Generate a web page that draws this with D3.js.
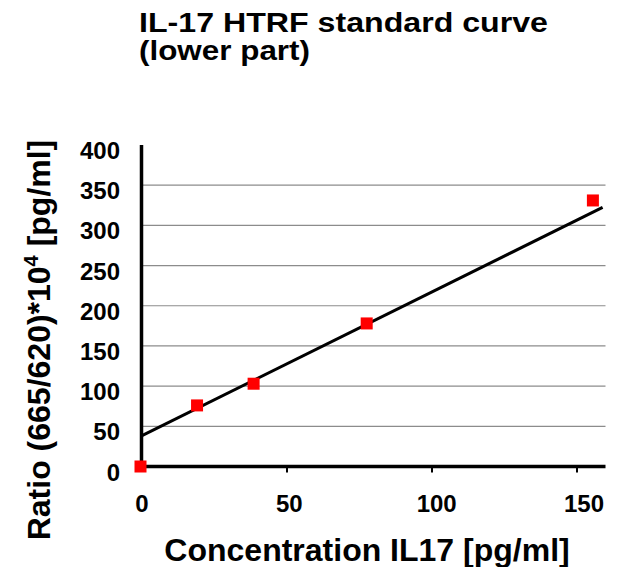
<!DOCTYPE html>
<html>
<head>
<meta charset="utf-8">
<script src="https://cdn.jsdelivr.net/npm/d3@7/dist/d3.min.js"></script>
<style>
  html, body { margin: 0; padding: 0; background: #fff; }
  svg { display: block; }
  text { font-family: "Liberation Sans", Arial, sans-serif; font-weight: bold; fill: #000; }
</style>
</head>
<body>
<svg id="chart" width="619" height="567"></svg>
<script>
// ---- data ----
const titleLines = ["IL-17 HTRF standard curve", "(lower part)"];
const xTitle = "Concentration IL17 [pg/ml]";
const concentrations = [0, 19.5, 39, 78, 156];
const ratios = [0, 76, 103, 178, 331];
const trendX = [0, 159];
const trendY = [38, 322.5];
const xTicks = [0, 50, 100, 150];
const yTicks = [0, 50, 100, 150, 200, 250, 300, 350, 400];
const gridValues = [50, 100, 150, 200, 250, 300, 350];

// ---- layout ----
const svg = d3.select("#chart");
const x = d3.scaleLinear().domain([0, 160]).range([141.5, 605.5]);
const y = d3.scaleLinear().domain([0, 400]).range([466.5, 145]);

// gridlines
svg.append("g").selectAll("line").data(gridValues).join("line")
  .attr("x1", x(0)).attr("x2", x(160))
  .attr("y1", d => y(d)).attr("y2", d => y(d))
  .attr("stroke", "#8c8c8c").attr("stroke-width", 1.2);

// x axis
const xAxis = d3.axisBottom(x).tickValues(xTicks.filter(d => d > 0)).tickSize(6).tickFormat("");
const gx = svg.append("g").attr("transform", `translate(0,${y(0)})`).call(xAxis);
gx.select(".domain").attr("stroke", "#000").attr("stroke-width", 3.5).attr("d", `M${x(0)},0H${x(160)}`);
gx.selectAll(".tick line").attr("stroke", "#000").attr("stroke-width", 2);

// x tick labels
const xLab = d3.scaleLinear().domain([0, 150]).range([142, 584]);
svg.append("g").selectAll("text").data(xTicks).join("text")
  .attr("x", d => xLab(d)).attr("y", 512)
  .attr("text-anchor", "middle").style("font-size", "24px")
  .text(d => d);

// y axis
const yAxis = d3.axisLeft(y).tickValues(yTicks).tickSize(0).tickFormat("");
const gy = svg.append("g").attr("transform", `translate(${x(0)},0)`).call(yAxis);
gy.select(".domain").attr("stroke", "#000").attr("stroke-width", 3.5).attr("d", `M0,${y(400)}V${y(0) + 1.5}`);

// y tick labels
svg.append("g").selectAll("text").data(yTicks).join("text")
  .attr("x", 120).attr("y", d => y(d) + 14)
  .attr("text-anchor", "end").style("font-size", "24px")
  .text(d => d);

// trend line
const line = d3.line().x(d => x(d[0])).y(d => y(d[1]));
svg.append("path").datum(d3.zip(trendX, trendY))
  .attr("d", line).attr("fill", "none").attr("stroke", "#000").attr("stroke-width", 3);

// markers
const ms = 12;
svg.append("g").selectAll("rect").data(d3.zip(concentrations, ratios)).join("rect")
  .attr("x", d => x(d[0]) - ms / 2 - 1).attr("y", d => y(d[1]) - ms / 2)
  .attr("width", ms).attr("height", ms).attr("fill", "#ff0000");

// title
const titleWidths = [409, 171];
svg.append("g").selectAll("text").data(titleLines).join("text")
  .attr("x", 139).attr("y", (d, i) => 32 + i * 28)
  .attr("textLength", (d, i) => titleWidths[i]).attr("lengthAdjust", "spacingAndGlyphs")
  .style("font-size", "28px").text(d => d);

// x title
svg.append("text").attr("x", 367).attr("y", 561).attr("text-anchor", "middle")
  .style("font-size", "32px").text(xTitle);

// y title
const yt = svg.append("text").attr("transform", "translate(50,340) rotate(-90)")
  .attr("text-anchor", "middle").style("font-size", "32px");
yt.append("tspan").text("Ratio (665/620)*10");
yt.append("tspan").attr("dy", -12).style("font-size", "20px").text("4");
yt.append("tspan").attr("dy", 12).text(" [pg/ml]");
</script>
</body>
</html>
